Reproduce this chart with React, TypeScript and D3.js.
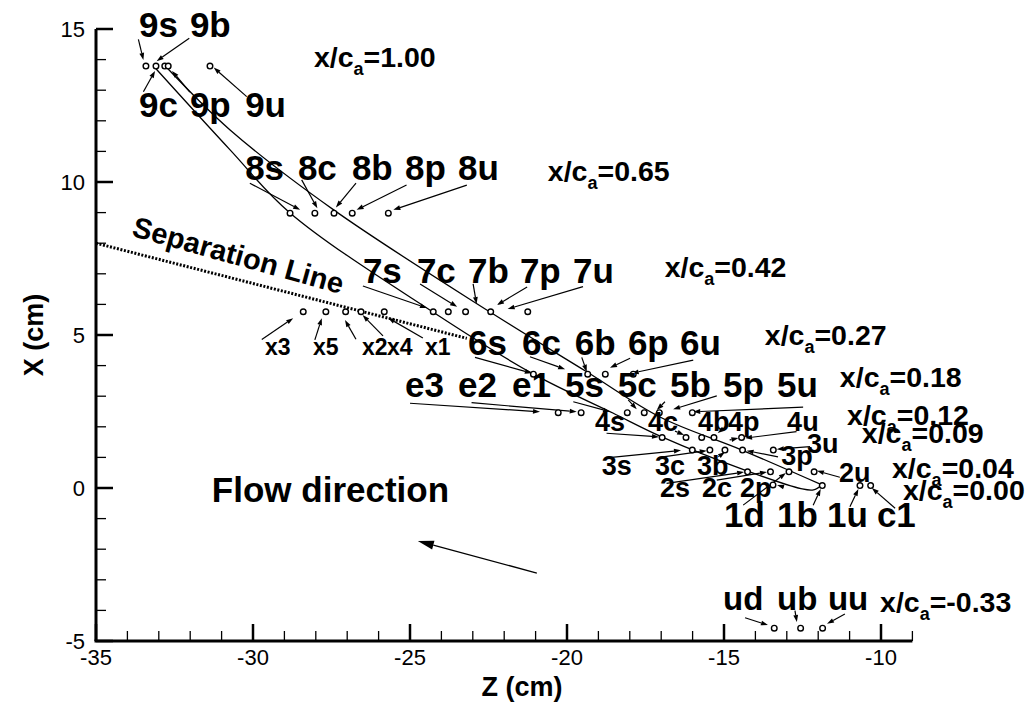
import React from 'react';
import * as d3 from 'd3';

// ---------- axes ----------
const zDomain: [number, number] = [-35, -9];
const xDomain: [number, number] = [-5, 15];
const zMajorTicks = [-35, -30, -25, -20, -15, -10];
const xMajorTicks = [-5, 0, 5, 10, 15];

// ---------- probe rows (X level, Z positions) ----------
const probeRows: { X: number; Z: number[] }[] = [
  { X: 13.79, Z: [-33.41, -33.09, -32.81, -32.7, -31.37] },
  { X: 8.98, Z: [-28.82, -28.03, -27.42, -26.84, -25.69] },
  { X: 5.76, Z: [-24.26, -23.78, -23.23, -22.43, -21.25] },
  { X: 5.76, Z: [-28.4, -27.68, -27.05, -26.56, -25.82] },
  { X: 3.72, Z: [-21.07, -19.34, -18.78, -17.89] },
  { X: 2.46, Z: [-20.28, -19.55, -18.08, -17.54, -17.06, -16.01] },
  { X: 1.65, Z: [-16.97, -16.21, -15.71, -15.32, -14.44] },
  { X: 1.24, Z: [-16.01, -15.45, -14.97, -14.41, -13.43] },
  { X: 0.53, Z: [-14.25, -13.52, -12.93, -12.13] },
  { X: 0.1, Z: [-13.44] },
  { X: 0.08, Z: [-11.87, -10.67, -10.33] },
  { X: -4.58, Z: [-13.4, -12.56, -11.86] },
];

// ---------- blade-like curves ----------
const curveA: [number, number][] = [
  [-33.09, 13.7], [-30.73, 11.05], [-28.82, 8.99], [-24.27, 5.75], [-21.08, 3.73],
  [-18.54, 2.45], [-16.98, 1.67], [-14.27, 0.56], [-12.55, -0.02], [-12.15, -0.06], [-11.88, 0.1],
];
const curveB: [number, number][] = [
  [-32.71, 13.7], [-30.73, 11.7], [-27.42, 9.08], [-22.45, 5.75], [-19.36, 3.79],
  [-17.04, 2.32], [-14.43, 1.24], [-11.88, 0.1],
];
const separationLine: [number, number][] = [[-35, 8.0], [-23.19, 4.89]];

// ---------- labels ----------
const bigLabels: [string, number, number][] = [
  ['9s', -33.63, 14.74], ['9b', -32.01, 14.74],
  ['9c', -33.63, 12.13], ['9p', -32.01, 12.13], ['9u', -30.25, 12.13],
  ['8s', -30.25, 10.07], ['8c', -28.57, 10.07], ['8b', -26.85, 10.07], ['8p', -25.16, 10.07], ['8u', -23.47, 10.07],
  ['7s', -26.5, 6.7], ['7c', -24.78, 6.7], ['7b', -23.15, 6.7], ['7p', -21.5, 6.7], ['7u', -19.81, 6.7],
  ['6s', -23.15, 4.35], ['6c', -21.43, 4.35], ['6b', -19.75, 4.35], ['6p', -18.06, 4.35], ['6u', -16.4, 4.35],
  ['e3', -25.16, 2.97], ['e2', -23.47, 2.97], ['e1', -21.75, 2.97], ['5s', -20.06, 2.97],
  ['5c', -18.38, 2.97], ['5b', -16.72, 2.97], ['5p', -15.03, 2.97], ['5u', -13.31, 2.97],
  ['1d', -15.0, -1.27], ['1b', -13.31, -1.27], ['1u', -11.72, -1.27], ['c1', -10.13, -1.27],
];
const upstreamLabels: [string, number, number][] = [
  ['ud', -15.03, -3.99], ['ub', -13.31, -3.99], ['uu', -11.69, -3.99],
];
const midLabels: [string, number, number][] = [
  ['4s', -19.11, 1.86], ['4c', -17.42, 1.86], ['4b', -15.83, 1.86], ['4p', -14.87, 1.86], ['4u', -12.99, 1.86],
  ['3s', -18.89, 0.42], ['3c', -17.2, 0.42], ['3b', -15.86, 0.42], ['3p', -13.18, 0.75], ['3u', -12.36, 1.14],
  ['2s', -17.04, -0.29], ['2c', -15.7, -0.29], ['2p', -14.49, -0.29], ['2u', -11.34, 0.2],
];
const smallLabels: [string, number, number][] = [
  ['x3', -29.62, 4.35], ['x5', -28.09, 4.35], ['x2', -26.53, 4.35], ['x4', -25.73, 4.35], ['x1', -24.52, 4.35],
];
const stationLabels: [string, number, number][] = [
  ['1.00', -28.06, 13.76], ['0.65', -20.61, 10.03], ['0.42', -16.89, 6.9], ['0.27', -13.7, 4.67],
  ['0.18', -11.31, 3.3], ['0.12', -11.08, 2.06], ['0.09', -10.61, 1.47], ['0.04', -9.65, 0.33],
  ['0.00', -9.3, -0.39], ['-0.33', -10.03, -4.05],
];

// ---------- leader arrows: [fromZ, fromX, toZ, toX] ----------
const leaders: [number, number, number, number][] = [
  [-33.65, 14.66, -33.49, 13.99], [-32.03, 14.7, -33.07, 13.95], [-33.49, 12.95, -33.12, 13.63],
  [-32.01, 12.94, -32.58, 13.63], [-30.2, 12.79, -31.25, 13.74],
  [-30.1, 9.96, -28.5, 9.09], [-28.45, 10.07, -27.95, 9.14], [-26.72, 9.96, -27.36, 9.17],
  [-25.11, 9.9, -26.7, 9.09], [-23.19, 9.9, -25.53, 9.09],
  [-26.5, 6.6, -24.46, 5.88], [-24.68, 6.67, -23.5, 5.92], [-22.99, 6.67, -22.88, 6.01],
  [-21.27, 6.57, -22.23, 5.98], [-19.49, 6.58, -21.89, 5.85],
  [-29.72, 4.85, -28.72, 5.55], [-28.03, 4.84, -27.81, 5.55], [-26.72, 4.86, -27.07, 5.49],
  [-25.86, 4.97, -26.51, 5.65], [-24.59, 4.9, -25.7, 5.56],
  [-22.93, 4.27, -21.12, 3.75], [-21.18, 4.29, -20.06, 3.88], [-19.53, 4.27, -19.37, 3.8],
  [-17.99, 4.24, -18.63, 3.93], [-15.98, 4.18, -17.94, 3.75],
  [-25.0, 2.77, -20.86, 2.49], [-23.04, 2.79, -19.69, 2.49], [-19.8, 2.82, -18.63, 2.49],
  [-18.05, 2.88, -17.78, 2.57], [-16.88, 2.82, -17.14, 2.55], [-15.23, 3.01, -16.62, 2.57],
  [-12.48, 2.64, -15.98, 2.49],
  [-18.74, 1.79, -17.07, 1.67], [-16.56, 1.86, -16.27, 1.73], [-14.89, 2.03, -15.2, 1.8],
  [-14.82, 1.57, -14.54, 1.63], [-12.69, 1.84, -14.33, 1.63],
  [-18.58, 1.0, -16.37, 1.23], [-16.94, 1.02, -15.55, 1.22], [-15.18, 1.02, -14.97, 1.18],
  [-13.28, 1.02, -14.28, 1.22], [-12.26, 1.35, -13.32, 1.27],
  [-16.83, 0.15, -14.36, 0.52], [-15.23, 0.26, -13.63, 0.52], [-13.12, 0.04, -13.31, 0.1],
  [-11.31, 0.35, -12.04, 0.56],
  [-14.39, -0.56, -13.03, 0.49], [-12.16, -0.56, -11.92, -0.03], [-10.99, -0.61, -10.72, -0.03],
  [-9.55, -0.66, -10.29, 0.0],
  [-14.33, -4.24, -13.6, -4.48], [-12.74, -4.01, -12.68, -4.38], [-11.15, -4.12, -11.72, -4.44],
];
const flowArrow: [number, number, number, number] = [-20.96, -2.78, -24.75, -1.73];
const flowText: [string, number, number] = ['Flow direction', -31.31, -0.46];
const sepText: [string, number, number] = ['Separation Line', -33.89, 8.24];

const FONT = "'Liberation Sans', Arial, Helvetica, sans-serif";

function Arrow(props: { x1: number; y1: number; x2: number; y2: number; len?: number; hw?: number; sw?: number }) {
  const { x1, y1, x2, y2, len = 7, hw = 2.4, sw = 1.2 } = props;
  const dx = x2 - x1, dy = y2 - y1;
  const L = Math.hypot(dx, dy) || 1;
  const ux = dx / L, uy = dy / L;
  const bx = x2 - ux * len, by = y2 - uy * len;
  const pts = `${x2},${y2} ${bx - uy * hw},${by + ux * hw} ${bx + uy * hw},${by - ux * hw}`;
  return (
    <g>
      <line x1={x1} y1={y1} x2={bx} y2={by} stroke="#000" strokeWidth={sw} />
      <polygon points={pts} fill="#000" />
    </g>
  );
}

export default function App() {
  const x = d3.scaleLinear().domain(zDomain).range([96, 912.4]);
  const y = d3.scaleLinear().domain(xDomain).range([641, 29]);
  const line = d3
    .line<[number, number]>()
    .x((d) => x(d[0]))
    .y((d) => y(d[1]))
    .curve(d3.curveCatmullRom.alpha(0.5));
  const straight = d3
    .line<[number, number]>()
    .x((d) => x(d[0]))
    .y((d) => y(d[1]));
  const zMinor = d3.range(zDomain[0], zDomain[1] + 0.5, 1).filter((v) => !zMajorTicks.includes(v));
  const xMinor = d3.range(xDomain[0], xDomain[1] + 0.5, 1).filter((v) => !xMajorTicks.includes(v));
  const x0 = x(zDomain[0]);
  const y0 = y(xDomain[0]);

  const renderLabels = (arr: [string, number, number][], size: number) =>
    arr.map(([t, z, xv], i) => (
      <text key={t + i} x={x(z)} y={y(xv)} fontSize={size} fontWeight="bold" fontFamily={FONT}>
        {t}
      </text>
    ));

  return (
    <svg
      width={1033}
      height={702}
      style={{ position: 'absolute', left: 0, top: 0, background: '#fff' }}
      xmlns="http://www.w3.org/2000/svg"
    >
      <rect x={0} y={0} width={1033} height={702} fill="#fff" />

      {/* separation line */}
      <path
        d={straight(separationLine) || ''}
        fill="none"
        stroke="#000"
        strokeWidth={3}
        strokeDasharray="2 1.6"
      />

      {/* curves */}
      <path d={line(curveA) || ''} fill="none" stroke="#000" strokeWidth={1.3} />
      <path d={line(curveB) || ''} fill="none" stroke="#000" strokeWidth={1.3} />

      {/* leader arrows */}
      {leaders.map(([z1, x1, z2, x2], i) => (
        <Arrow key={i} x1={x(z1)} y1={y(x1)} x2={x(z2)} y2={y(x2)} />
      ))}

      {/* flow arrow */}
      <Arrow
        x1={x(flowArrow[0])}
        y1={y(flowArrow[1])}
        x2={x(flowArrow[2])}
        y2={y(flowArrow[3])}
        len={16}
        hw={4.5}
        sw={1.3}
      />

      {/* probe points */}
      {probeRows.map((r, ri) =>
        r.Z.map((z, i) => (
          <circle key={ri + '-' + i} cx={x(z)} cy={y(r.X)} r={2.8} fill="#fff" stroke="#000" strokeWidth={1.4} />
        ))
      )}

      {/* labels */}
      {renderLabels(bigLabels, 35)}
      {renderLabels(upstreamLabels, 33)}
      {renderLabels(midLabels, 27)}
      {renderLabels(smallLabels, 23)}

      {stationLabels.map(([v, z, xv], i) => (
        <text key={'st' + i} x={x(z)} y={y(xv)} fontSize={28.5} fontWeight="bold" fontFamily={FONT}>
          x/c
          <tspan dy={8} fontSize={18}>a</tspan>
          <tspan dy={-8}>={v}</tspan>
        </text>
      ))}

      <text x={x(flowText[1])} y={y(flowText[2])} fontSize={35} fontWeight="bold" fontFamily={FONT}>
        {flowText[0]}
      </text>
      <text
        transform={`translate(${x(sepText[1])},${y(sepText[2])}) rotate(15.5)`}
        fontSize={29}
        fontWeight="bold"
        fontFamily={FONT}
      >
        {sepText[0]}
      </text>

      {/* axes */}
      <line x1={x0} y1={y(xDomain[1])} x2={x0} y2={y0} stroke="#000" strokeWidth={3} />
      <line x1={x0 - 1.5} y1={y0} x2={x(zDomain[1])} y2={y0} stroke="#000" strokeWidth={3} />
      {zMajorTicks.map((t) => (
        <g key={'zt' + t}>
          <line x1={x(t)} y1={y0} x2={x(t)} y2={y0 - 17} stroke="#000" strokeWidth={2.5} />
          <text x={x(t)} y={665} textAnchor="middle" fontSize={22} fontFamily={FONT}>
            {t}
          </text>
        </g>
      ))}
      {zMinor.map((t) => (
        <line key={'zm' + t} x1={x(t)} y1={y0} x2={x(t)} y2={y0 - 10} stroke="#000" strokeWidth={1.3} />
      ))}
      {xMajorTicks.map((t) => (
        <g key={'xt' + t}>
          <line x1={x0} y1={y(t)} x2={x0 + 17} y2={y(t)} stroke="#000" strokeWidth={2.5} />
          <text x={85} y={y(t)} dy="0.35em" textAnchor="end" fontSize={22} fontFamily={FONT}>
            {t}
          </text>
        </g>
      ))}
      {xMinor.map((t) => (
        <line key={'xm' + t} x1={x0} y1={y(t)} x2={x0 + 10} y2={y(t)} stroke="#000" strokeWidth={1.3} />
      ))}

      <text x={522} y={696} textAnchor="middle" fontSize={27} fontWeight="bold" fontFamily={FONT}>
        Z (cm)
      </text>
      <text
        transform={`translate(43,335) rotate(-90)`}
        textAnchor="middle"
        fontSize={27}
        fontWeight="bold"
        fontFamily={FONT}
      >
        X (cm)
      </text>
    </svg>
  );
}
